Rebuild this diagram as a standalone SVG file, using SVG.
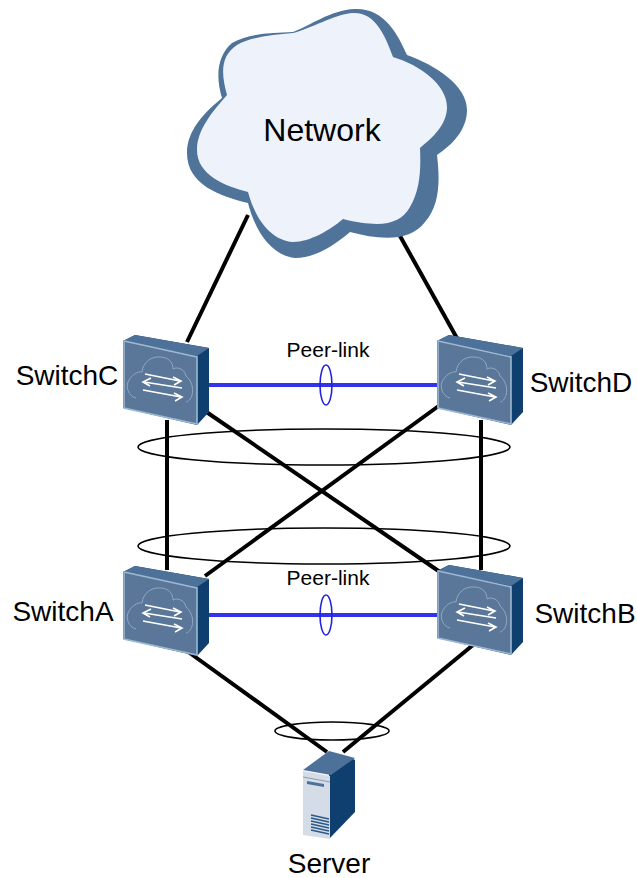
<svg xmlns="http://www.w3.org/2000/svg" width="637" height="878" viewBox="0 0 637 878">
<style>
text{font-family:"Liberation Sans",Arial,sans-serif;fill:#000}
.lbl{font-size:28px}
.net{font-size:32px}
.pl{font-size:21px}
.k{stroke:#000;stroke-width:4;fill:none}
.b{stroke:#3333ee;stroke-width:4;fill:none}
.ek{stroke:#000;stroke-width:1.6;fill:none}
.eb{stroke:#2222dd;stroke-width:1.6;fill:none}
</style>
<defs>
<g id="sw">
<path d="M123 341L135 335L209 348V412L197 425L123 408Z" fill="#0e3f6e"/>
<path d="M123 341L135 335L209 348L197 356Z" fill="#4d7199"/>
<path d="M124 341L197 357V424L124 408Z" fill="#5a7698" stroke="#9db8d2" stroke-width="1.600"/>
<path d="M136 398C128 396 126 387 128 382C131 375 138 371 142 372C143 362 152 356 160 357C168 357 173 362 173 369C178 366 185 370 186 376C191 380 194 388 192 395C191 399 188 402 186 402" fill="none" stroke="#8fa9c4" stroke-width="1"/>
<g fill="none" stroke="#fff" stroke-width="1.600">
<path d="M145 374L180 381M173 377L181 381L174 385"/>
<path d="M182 388L144 382M151 378L143 382L150 386"/>
<path d="M143 390L181 397M174 393L182 397L175 401"/>
</g>
</g>
</defs>
<g id="connectors">
<path class="k" d="M248 215L187 342"/>
<path class="k" d="M400 236L458 340"/>
<path class="k" d="M167 420V570"/>
<path class="k" d="M481 420V570"/>
<path class="k" d="M205 411L440 572"/>
<path class="k" d="M440 405L205 576"/>
<path class="k" d="M187 651L327 752"/>
<path class="k" d="M473 645L343 752"/>
<path class="b" d="M209 385H437"/>
<path class="b" d="M209 615H437"/>
<ellipse class="ek" cx="324" cy="447" rx="186" ry="18"/>
<ellipse class="ek" cx="324" cy="546" rx="186" ry="18"/>
<ellipse class="ek" cx="332" cy="731" rx="57" ry="9"/>
<ellipse class="eb" cx="326" cy="385" rx="6" ry="20"/>
<ellipse class="eb" cx="326" cy="615" rx="6" ry="20"/>
</g>
<g id="network">
<path d="M293 32C310 26 330 10 355 9C385 8 398 35 407 55C435 65 467 85 467 110C467 130 452 145 437 155C440 180 440 205 425 222C410 242 380 240 350 232C335 245 315 258 295 258C270 255 255 230 248 203C220 196 187 185 187 153C187 130 205 112 222 98C215 75 218 55 232 43C250 33 272 33 293 32Z" fill="#4f7399"/>
<path d="M293 33C310 29 335 14 353 13C375 12 385 35 393 57C420 65 447 85 447 107C447 125 432 138 420 148C421 170 420 190 410 207C400 225 380 228 343 219C330 230 310 242 293 242C270 240 255 218 248 192C225 186 197 175 197 150C197 130 212 112 227 95C220 70 222 55 237 45C250 37 272 35 293 33Z" fill="#eef3fb"/>
<text x="322" y="141" class="net" text-anchor="middle">Network</text>
</g>
<g id="switchC"><use href="#sw"/><text x="67" y="385" class="lbl" text-anchor="middle">SwitchC</text></g>
<g id="switchD"><use href="#sw" x="314" y="0"/><text x="581" y="392" class="lbl" text-anchor="middle">SwitchD</text></g>
<g id="switchA"><use href="#sw" x="0" y="231"/><text x="63" y="621" class="lbl" text-anchor="middle">SwitchA</text></g>
<g id="switchB"><use href="#sw" x="314" y="230"/><text x="585" y="623" class="lbl" text-anchor="middle">SwitchB</text></g>
<g id="peer1"><text x="328" y="357" class="pl" text-anchor="middle">Peer-link</text></g>
<g id="peer2"><text x="328" y="585" class="pl" text-anchor="middle">Peer-link</text></g>
<g id="server">
<path d="M329 839L355 812V760L349 757L329 771Z" fill="#0e3f6e"/>
<path d="M303 770L329 751L355 758L331 775Z" fill="#4d7199"/>
<path d="M303 771L330 776V839L303 835Z" fill="#d3dce7"/>
<path d="M303 777L330 782" stroke="#8a9db3" stroke-width="1" fill="none"/>
<path d="M307 781L324 784V787L307 784Z" fill="#4d7199"/>
<path d="M311 815L329 819M311 818L329 822M311 821L329 825M311 824L329 828M311 827L329 831M311 830L329 834" stroke="#2c5a88" stroke-width="1.500" fill="none"/>
<text x="329" y="873" class="lbl" text-anchor="middle">Server</text>
</g>
</svg>
